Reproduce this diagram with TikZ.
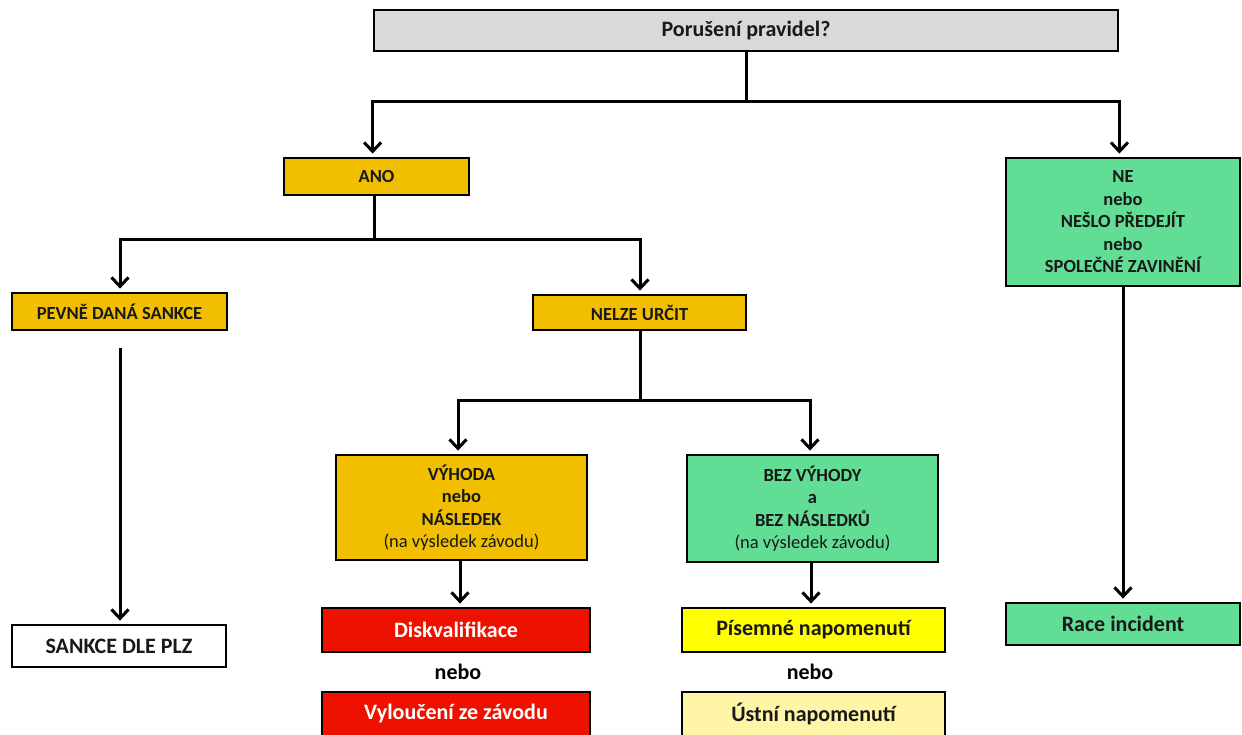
\documentclass[tikz,border=0pt]{standalone}
\usepackage{fontspec}
\setmainfont{Carlito}
\usetikzlibrary{arrows.meta,calc}
\definecolor{cgray}{HTML}{D9D9D9}
\definecolor{cgold}{HTML}{F2BF00}
\definecolor{cgreen}{HTML}{62DD95}
\definecolor{cred}{HTML}{EE1100}
\definecolor{cyel}{HTML}{FFFF00}
\definecolor{clyel}{HTML}{FFF5A8}
\tikzset{
  box/.style={draw=black, line width=2.8pt, inner sep=0pt, align=center,
    font=\fontsize{18.5}{22.5}\selectfont\bfseries, text=black!90},
  big/.style={font=\fontsize{22}{26}\selectfont\bfseries},
  conn/.style={line width=3pt, black},
  arr/.style={conn, -{Straight Barb[length=9pt,width=17pt,line width=3pt]}, shorten >=3pt},
  note/.style={font=\fontsize{22}{26}\selectfont\bfseries, inner sep=0pt}
}
\newcommand{\subtxt}{\fontsize{18.5}{22.5}\selectfont\mdseries}
\begin{document}
\begin{tikzpicture}[x=1pt,y=-1pt]
\useasboundingbox (0,0) rectangle (1242,735);
\clip (0,0) rectangle (1242,735);
\fill[white] (0,0) rectangle (1242,735);
% nodes
\node[box, big, fill=cgray, minimum width=744pt, minimum height=41pt] (top) at (746,30.5) {Porušení pravidel?};
\node[box, fill=cgold, minimum width=185pt, minimum height=37pt] (ano) at (376.5,176.5) {ANO};
\node[box, fill=cgreen, minimum width=234pt, minimum height=128pt] (ne) at (1123,222) {NE\\nebo\\NEŠLO PŘEDEJÍT\\nebo\\SPOLEČNÉ ZAVINĚNÍ};
\node[box, fill=cgold, minimum width=215pt, minimum height=37pt] (pevne) at (119.5,311.5) {PEVNĚ DANÁ SANKCE};
\node[box, fill=cgold, minimum width=213pt, minimum height=35pt] (nelze) at (639.5,312.5) {NELZE URČIT};
\node[box, big, fill=white, minimum width=214pt, minimum height=42pt] (sankce) at (119,646) {SANKCE DLE PLZ};
\node[box, fill=cgold, minimum width=251pt, minimum height=105pt] (vyhoda) at (461.5,507.5) {VÝHODA\\nebo\\NÁSLEDEK\\{\subtxt (na výsledek závodu)}};
\node[box, fill=cgreen, minimum width=251pt, minimum height=107pt] (bez) at (812.5,508.5) {BEZ VÝHODY\\a\\BEZ NÁSLEDKŮ\\{\subtxt (na výsledek závodu)}};
\node[box, big, fill=cred, text=white, minimum width=268pt, minimum height=44pt] (disk) at (456,630) {Diskvalifikace};
\node[note] (nebo1) at (458,672) {nebo};
\node[box, fill=cred, minimum width=268pt, minimum height=60pt] (vyl) at (456,722) {};
\node[box, big, fill=cyel, minimum width=263pt, minimum height=44pt] (pis) at (813.5,630) {Písemné napomenutí};
\node[note] (nebo2) at (810,672) {nebo};
\node[box, fill=clyel, minimum width=263pt, minimum height=60pt] (ust) at (813.5,722) {};
\node[box, big, fill=cgreen, minimum width=234pt, minimum height=42pt] (race) at (1123,624) {Race incident};
\node[note, text=white] (vyltext) at (456,714) {Vyloučení ze závodu};
\node[note, text=black!90] (usttext) at (813.5,714) {Ústní napomenutí};
% connectors
\draw[conn] (top.south) -- ++(0,49) coordinate (j1);
\draw[arr] (j1) -| (top.south west |- ano.north);
\draw[arr] (j1) -| (top.south east |- ne.north);
\draw[conn] (ano.south -| 374,0) -- (374,240) coordinate (j2);
\draw[arr] (j2) -| (120,0 |- pevne.north);
\draw[arr] (j2) -| (640,0 |- nelze.north);
\coordinate (c1) at (120,348);
\draw[arr] (c1) -- (c1 |- sankce.north);
\draw[conn] (nelze.south -| 640,0) -- (640,400) coordinate (j3);
\draw[arr] (j3) -| (458,0 |- vyhoda.north);
\draw[arr] (j3) -| (810,0 |- bez.north);
\draw[arr] (vyhoda.south -| 460,0) -- (460,0 |- disk.north);
\draw[arr] (bez.south -| 811,0) -- (811,0 |- pis.north);
\draw[arr] (ne.south) -- (ne.south |- race.north);
\end{tikzpicture}
\end{document}
